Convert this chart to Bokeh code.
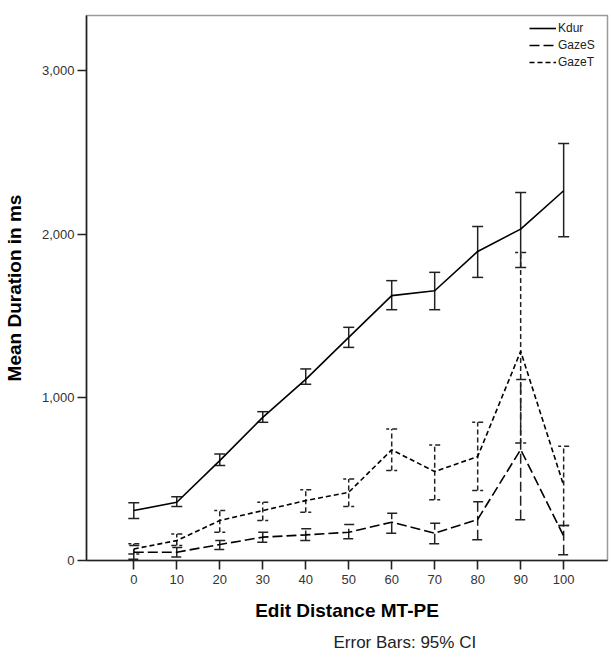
from bokeh.plotting import figure
from bokeh.models import (ColumnDataSource, Whisker, TeeHead, FixedTicker,
                          NumeralTickFormatter, Legend, LegendItem, Title)
from bokeh.embed import file_html
from bokeh.resources import INLINE

# ---- data ----
edit_distance = [0, 10, 20, 30, 40, 50, 60, 70, 80, 90, 100]

kdur_mean = [306, 357, 612, 877, 1110, 1367, 1623, 1653, 1894, 2031, 2266]
kdur_lo = [258, 331, 582, 847, 1080, 1306, 1537, 1537, 1735, 1796, 1984]
kdur_hi = [354, 390, 653, 912, 1174, 1429, 1715, 1766, 2047, 2255, 2555]

gazes_mean = [51, 51, 98, 143, 157, 173, 235, 167, 252, 680, 150]
gazes_lo = [8, 22, 67, 112, 122, 133, 167, 102, 127, 249, 35]
gazes_hi = [92, 80, 122, 173, 194, 220, 290, 229, 360, 1110, 215]

gazet_mean = [71, 122, 245, 306, 367, 418, 678, 545, 637, 1282, 460]
gazet_lo = [40, 92, 173, 245, 296, 331, 551, 372, 429, 720, 215]
gazet_hi = [102, 163, 306, 357, 433, 500, 806, 708, 847, 1888, 700]

series_names = ["Kdur", "GazeS", "GazeT"]
y_ticks = [0, 1000, 2000, 3000]

FONT = "Liberation Sans"

p = figure(width=611, height=660, x_range=(-11.0, 110.2), y_range=(0, 3340),
           output_backend="svg", toolbar_location=None,
           min_border_left=86, min_border_right=4, min_border_top=15,
           min_border_bottom=100)
p.xgrid.visible = False
p.ygrid.visible = False
p.background_fill_color = "white"
p.border_fill_color = "white"
p.outline_line_color = "#9a9a9a"
p.outline_line_width = 1.5

styles = [
    (kdur_mean, kdur_lo, kdur_hi, "solid"),
    (gazes_mean, gazes_lo, gazes_hi, "10 4"),
    (gazet_mean, gazet_lo, gazet_hi, "5 3"),
]

items = []
for name, (m, lo, hi, dash) in zip(series_names, styles):
    src = ColumnDataSource(dict(x=edit_distance, y=m, lo=lo, hi=hi))
    r = p.line("x", "y", source=src, line_color="black", line_width=1.6,
               line_dash=dash)
    w = Whisker(base="x", lower="lo", upper="hi", source=src,
                line_color="#222222", line_width=1.5, line_dash=dash,
                upper_head=TeeHead(size=11, line_color="#222222", line_width=1.5, line_dash=dash),
                lower_head=TeeHead(size=11, line_color="#222222", line_width=1.5, line_dash=dash))
    p.add_layout(w)
    items.append(LegendItem(label=name, renderers=[r]))

legend = Legend(items=items, location="top_right", margin=5, padding=6,
                border_line_color=None, background_fill_alpha=0,
                label_text_font=FONT, label_text_font_size="12px",
                label_text_color="#222222", glyph_width=27, glyph_height=16,
                label_height=16, label_width=44, label_standoff=2, spacing=1)
p.add_layout(legend)

# axes
p.xaxis.ticker = FixedTicker(ticks=edit_distance)
p.yaxis.ticker = FixedTicker(ticks=y_ticks)
p.yaxis.formatter = NumeralTickFormatter(format="0,0")
for ax in (p.xaxis[0], p.yaxis[0]):
    ax.axis_line_color = "#222222"
    ax.axis_line_width = 1.6
    ax.major_tick_line_color = "#222222"
    ax.major_tick_line_width = 1.6
    ax.major_tick_in = 0
    ax.major_tick_out = 9
    ax.minor_tick_line_color = None
    ax.major_label_text_font = FONT
    ax.major_label_text_font_size = "13px"
    ax.major_label_text_color = "#333333"
    ax.axis_label_text_font = FONT
    ax.axis_label_text_font_style = "bold"
    ax.axis_label_text_font_size = "19px"
    ax.axis_label_text_color = "black"

p.xaxis.axis_label = "Edit Distance MT-PE"
p.yaxis.axis_label = "Mean Duration in ms"
p.xaxis.major_label_standoff = 5
p.yaxis.major_label_standoff = 3
p.xaxis.axis_label_standoff = 13
p.yaxis.axis_label_standoff = 14

note = Title(text="Error Bars: 95% CI", align="left", offset=247,
             text_font=FONT, text_font_size="17px", text_font_style="normal",
             text_color="#222222", standoff=14)
p.add_layout(note, "below")

open("out.html", "w").write(file_html(p, INLINE))
